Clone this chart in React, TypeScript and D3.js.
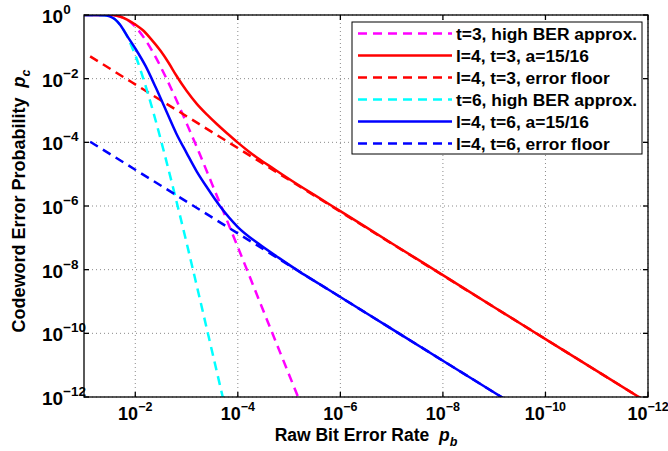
import * as d3 from "d3";
import { useEffect, useRef } from "react";

// all points are [log10(pb), log10(pc)]
const t3HighBer: [number, number][] = [
  [-1, 0], [-1.3, -0.0005], [-1.5, -0.003], [-1.7, -0.046], [-1.85, -0.158],
  [-2.0, -0.366], [-2.2, -0.787], [-2.4, -1.33], [-2.6, -1.97], [-2.8, -2.66],
  [-3.0, -3.4], [-3.2, -4.15], [-3.5, -5.32], [-4.0, -7.29], [-4.5, -9.3],
  [-5.0, -11.3], [-5.2, -12.1],
];
const l4t3: [number, number][] = [
  [-1, 0], [-1.3, -0.0005], [-1.5, -0.003], [-1.7, -0.045], [-1.85, -0.15],
  [-2.0, -0.3], [-2.15, -0.48], [-2.3, -0.74], [-2.5, -1.14], [-2.65, -1.5],
  [-2.8, -1.9], [-3.0, -2.38], [-3.2, -2.79], [-3.4, -3.13], [-3.6, -3.44],
  [-3.8, -3.73], [-4.0, -4.01], [-4.2, -4.27], [-4.4, -4.51], [-4.7, -4.83],
  [-5.0, -5.15], [-5.5, -5.66], [-6.0, -6.16], [-7, -7.17], [-8, -8.17],
  [-9, -9.18], [-10, -10.18], [-11, -11.18], [-12, -12.18],
];
const l4t3Floor: [number, number][] = [
  [-1.12, -1.3], [-2, -2.18], [-4, -4.18], [-6, -6.18], [-8, -8.18],
  [-10, -10.18], [-12, -12.18],
];
const t6HighBer: [number, number][] = [
  [-1, 0], [-1.4, -0.005], [-1.5, -0.044], [-1.6, -0.13], [-1.7, -0.3],
  [-1.85, -0.7], [-2.0, -1.26], [-2.2, -2.22], [-2.4, -3.33], [-2.6, -4.55],
  [-2.8, -5.83], [-3.0, -7.15], [-3.2, -8.51], [-3.5, -10.58], [-3.72, -12.1],
];
const l4t6: [number, number][] = [
  [-1, 0], [-1.4, -0.005], [-1.5, -0.044], [-1.6, -0.13], [-1.7, -0.3],
  [-1.85, -0.68], [-2.0, -1.05], [-2.2, -1.6], [-2.4, -2.28], [-2.6, -3.0],
  [-2.8, -3.72], [-3.0, -4.33], [-3.2, -4.92], [-3.4, -5.42], [-3.65, -6.0],
  [-4.0, -6.66], [-4.4, -7.18], [-4.8, -7.63], [-5.2, -8.06], [-5.6, -8.46],
  [-6.0, -8.86], [-7, -9.86], [-8, -10.86], [-9, -11.86], [-10, -12.86],
];
const l4t6Floor: [number, number][] = [
  [-1.12, -3.98], [-2, -4.86], [-4, -6.86], [-6, -8.86], [-8, -10.86],
  [-10, -12.86],
];

const legendLabels = [
  "t=3, high BER approx.",
  "l=4, t=3, a=15/16",
  "l=4, t=3, error floor",
  "t=6, high BER approx.",
  "l=4, t=6, a=15/16",
  "l=4, t=6, error floor",
];

const xTickExps = [-2, -4, -6, -8, -10, -12];
const yTickExps = [0, -2, -4, -6, -8, -10, -12];

const W = 668;
const H = 451;
const FONT = "'Liberation Sans', Arial, Helvetica, sans-serif";

export default function App() {
  const svgRef = useRef<SVGSVGElement | null>(null);

  useEffect(() => {
    if (!svgRef.current) return;
    const svg = d3.select(svgRef.current);
    svg.selectAll("*").remove();

    const left = 84, right = 648, top = 15, bottom = 397;

    const x = d3.scaleLog().domain([1e-1, 1e-12]).range([left, right]);
    const y = d3.scaleLog().domain([1, 1e-12]).range([top, bottom]);

    const series = [
      { data: t3HighBer, color: "#ff00ff", dash: "9,6" },
      { data: l4t3, color: "#ff0000", dash: null },
      { data: l4t3Floor, color: "#ff0000", dash: "9,6" },
      { data: t6HighBer, color: "#00ffff", dash: "9,6" },
      { data: l4t6, color: "#0000ff", dash: null },
      { data: l4t6Floor, color: "#0000ff", dash: "9,6" },
    ];

    svg
      .append("defs")
      .append("clipPath")
      .attr("id", "plot-clip")
      .append("rect")
      .attr("x", left)
      .attr("y", top)
      .attr("width", right - left)
      .attr("height", bottom - top);

    svg.append("rect").attr("width", W).attr("height", H).attr("fill", "#fff");

    // grid (dotted)
    const grid = svg.append("g").attr("stroke", "#8a8a8a").attr("stroke-width", 1)
      .attr("stroke-dasharray", "1,3");
    xTickExps.forEach((e) => {
      grid.append("line")
        .attr("x1", x(10 ** e)).attr("x2", x(10 ** e))
        .attr("y1", top).attr("y2", bottom);
    });
    yTickExps.forEach((e) => {
      grid.append("line")
        .attr("x1", left).attr("x2", right)
        .attr("y1", y(10 ** e)).attr("y2", y(10 ** e));
    });

    // curves
    const line = d3
      .line<[number, number]>()
      .x((d) => x(10 ** d[0]))
      .y((d) => y(10 ** d[1]))
      .curve(d3.curveMonotoneX);

    const plot = svg.append("g").attr("clip-path", "url(#plot-clip)");
    series.forEach((s) => {
      plot.append("path")
        .datum(s.data)
        .attr("fill", "none")
        .attr("stroke", s.color)
        .attr("stroke-width", 2.5)
        .attr("stroke-dasharray", s.dash ?? null)
        .attr("d", line);
    });

    // box + ticks
    svg.append("rect")
      .attr("x", left).attr("y", top)
      .attr("width", right - left).attr("height", bottom - top)
      .attr("fill", "none").attr("stroke", "#000").attr("stroke-width", 1.3);

    const ticks = svg.append("g").attr("stroke", "#000").attr("stroke-width", 1.3);
    xTickExps.forEach((e) => {
      const xx = x(10 ** e);
      ticks.append("line").attr("x1", xx).attr("x2", xx).attr("y1", bottom).attr("y2", bottom - 5);
      ticks.append("line").attr("x1", xx).attr("x2", xx).attr("y1", top).attr("y2", top + 5);
    });
    yTickExps.forEach((e) => {
      const yy = y(10 ** e);
      ticks.append("line").attr("x1", left).attr("x2", left + 5).attr("y1", yy).attr("y2", yy);
      ticks.append("line").attr("x1", right).attr("x2", right - 5).attr("y1", yy).attr("y2", yy);
    });

    // tick labels
    const txt = svg.append("g")
      .attr("font-family", FONT).attr("font-weight", "bold").attr("fill", "#000");

    xTickExps.forEach((e) => {
      const t = txt.append("text")
        .attr("x", x(10 ** e)).attr("y", 420)
        .attr("text-anchor", "middle").attr("font-size", 18);
      t.append("tspan").text("10");
      t.append("tspan").attr("dy", -9).attr("font-size", 12.5).text(`\u2212${-e}`);
    });
    yTickExps.forEach((e) => {
      const yy = y(10 ** e);
      const t = txt.append("text")
        .attr("x", 42).attr("y", yy + 8).attr("font-size", 19);
      t.append("tspan").text("10");
      t.append("tspan").attr("dy", -9).attr("font-size", 13.5)
        .text(e === 0 ? "0" : `\u2212${-e}`);
    });

    // axis titles
    const xl = txt.append("text")
      .attr("x", (left + right) / 2).attr("y", 441)
      .attr("text-anchor", "middle").attr("font-size", 17.5);
    xl.append("tspan").text("Raw Bit Error Rate\u00a0\u00a0");
    xl.append("tspan").attr("font-style", "italic").text("p");
    xl.append("tspan").attr("font-style", "italic").attr("font-size", 12.5).attr("dy", 5).text("b");

    const yl = txt.append("text")
      .attr("transform", "translate(25,201) rotate(-90)")
      .attr("text-anchor", "middle").attr("font-size", 18);
    yl.append("tspan").text("Codeword Error Probability\u00a0\u00a0");
    yl.append("tspan").attr("font-style", "italic").text("p");
    yl.append("tspan").attr("font-style", "italic").attr("font-size", 12.5).attr("dy", 5).text("c");

    // legend
    const lg = svg.append("g");
    lg.append("rect")
      .attr("x", 352).attr("y", 22).attr("width", 290).attr("height", 132)
      .attr("fill", "#fff").attr("stroke", "#000").attr("stroke-width", 1);
    series.forEach((s, i) => {
      const cy = 33.5 + i * 22;
      lg.append("line")
        .attr("x1", 358).attr("x2", 452).attr("y1", cy).attr("y2", cy)
        .attr("stroke", s.color).attr("stroke-width", 2.5)
        .attr("stroke-dasharray", s.dash ?? null);
      lg.append("text")
        .attr("x", 456).attr("y", cy + 6)
        .attr("font-family", FONT).attr("font-weight", "bold").attr("font-size", 17.4)
        .text(legendLabels[i]);
    });
  }, []);

  return (
    <svg
      ref={svgRef}
      width={W}
      height={H}
      style={{ position: "absolute", left: 0, top: 0 }}
    />
  );
}
